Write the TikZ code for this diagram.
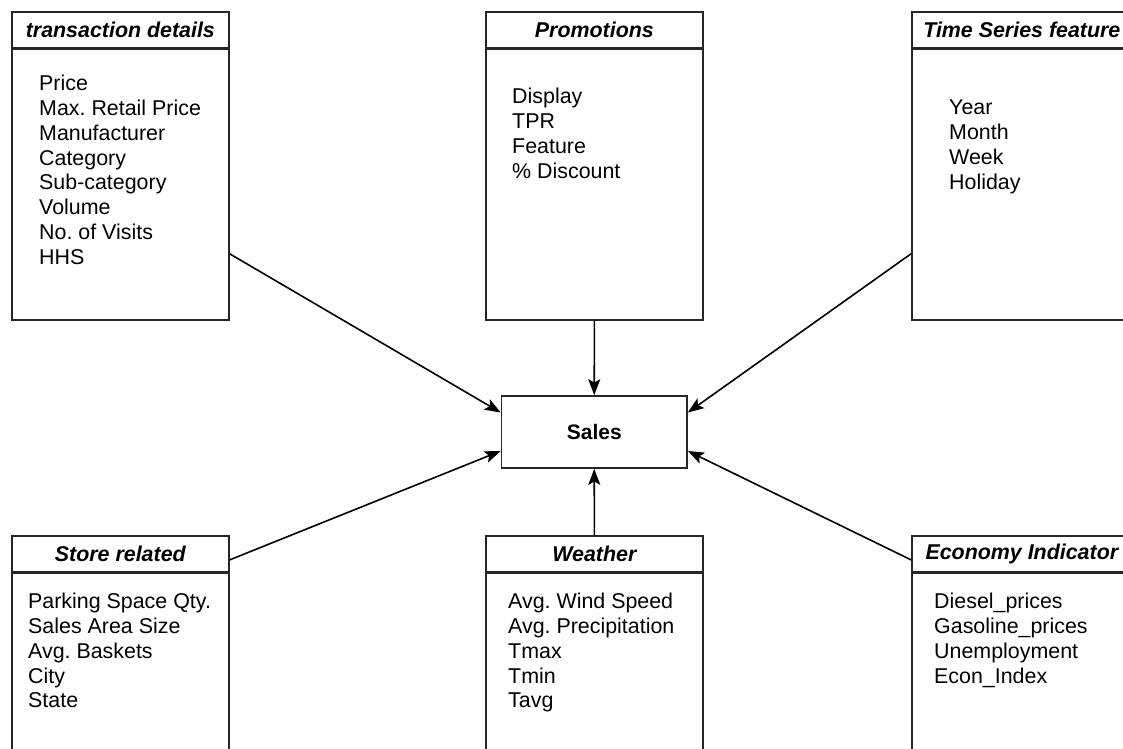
\documentclass[tikz,border=0pt]{standalone}
\usepackage{fontspec}
\setmainfont{Liberation Sans}
\usetikzlibrary{arrows.meta}
\begin{document}
\frenchspacing
\begin{tikzpicture}[x=1pt,y=-1pt,
  hdr/.style={draw=black!85,line width=1.7pt,minimum width=217pt,minimum height=36pt,anchor=north west,inner sep=0pt,
    font=\fontsize{21.4}{24.8}\selectfont\bfseries\itshape},
  body/.style={draw=black!85,line width=1.7pt,minimum width=217pt,anchor=north,inner sep=0pt},
  items/.style={anchor=north west,inner sep=0pt,align=left,font=\fontsize{21.4}{24.8}\selectfont\frenchspacing},
  salesbox/.style={draw=black!85,line width=1.7pt,minimum width=185.5pt,minimum height=72pt,inner sep=0pt,
    font=\fontsize{21}{24}\selectfont\bfseries},
  arr/.style={line width=1.6pt,-{Stealth[length=16pt,width=12pt,inset=3.5pt]}}]
\useasboundingbox (0,0) rectangle (1123,748);
\clip (0,0) rectangle (1123,748);
\fill[white] (0,0) rectangle (1123,748);
% top row
\node[hdr] (tdh) at (11,11) {transaction details};
\node[body,minimum height=270.5pt] (tdb) at (tdh.south) {};
\node[items] (tdt) at (39,75) {Price\\Max. Retail Price\\Manufacturer\\Category\\Sub-category\\Volume\\No. of Visits\\HHS};
\node[hdr] (prh) at (485,11) {Promotions};
\node[body,minimum height=270.5pt] (prb) at (prh.south) {};
\node[items] (prt) at (512,88) {Display\\TPR\\Feature\\\% Discount};
\node[hdr,minimum width=220pt] (tsh) at (911,11) {Time Series feature};
\node[body,minimum width=220pt,minimum height=270.5pt] (tsb) at (tsh.south) {};
\node[items] (tst) at (949,100) {Year\\Month\\Week\\Holiday};
% sales
\node[salesbox] (sales) at (594.25,432) {Sales};
% bottom row
\node[hdr] (sth) at (11,535) {Store related};
\node[body,minimum height=250pt] (stb) at (sth.south) {};
\node[items] (stt) at (28,593) {Parking Space Qty.\\Sales Area Size\\Avg. Baskets\\City\\State};
\node[hdr] (weh) at (485,535) {Weather};
\node[body,minimum height=250pt] (web) at (weh.south) {};
\node[items] (wet) at (508,593) {Avg. Wind Speed\\Avg. Precipitation\\Tmax\\Tmin\\Tavg};
\node[hdr,minimum width=220pt] (ech) at (911,535) {Economy Indicator};
\node[body,minimum width=220pt,minimum height=250pt] (ecb) at (ech.south) {};
\node[items] (ect) at (934,593) {Diesel\_prices\\Gasoline\_prices\\Unemployment\\Econ\_Index};
% connectors
\draw[arr] ([yshift=-69pt]tdb.east) -- ([yshift=19.5pt]sales.west);
\draw[arr] (prb.south) -- (sales.north);
\draw[arr] ([yshift=-69pt]tsb.west) -- ([yshift=19.5pt]sales.east);
\draw[arr] ([yshift=-6pt]sth.east) -- ([yshift=-19pt]sales.west);
\draw[arr] (weh.north) -- (sales.south);
\draw[arr] ([yshift=-6pt]ech.west) -- ([yshift=-19pt]sales.east);
\end{tikzpicture}
\end{document}
